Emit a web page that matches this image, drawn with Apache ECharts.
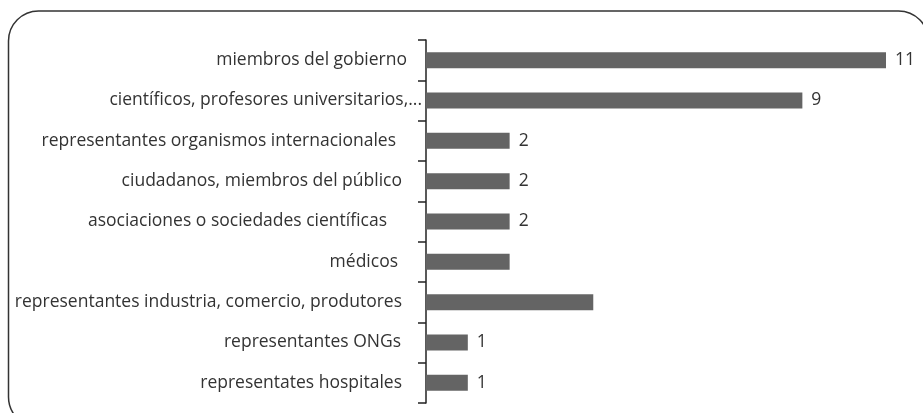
<!DOCTYPE html>
<html>
<head>
<meta charset="utf-8">
<script src="https://cdn.jsdelivr.net/npm/echarts@6/dist/echarts.min.js"></script>
<style>
html,body{margin:0;padding:0;background:#fff;}
#chart{width:923px;height:413px;}
</style>
</head>
<body>
<div id="chart"></div>
<script>
// Data
const categories = [
  'miembros del gobierno',
  'científicos, profesores universitarios,...',
  'representantes organismos internacionales',
  'ciudadanos, miembros del público',
  'asociaciones o sociedades científicas',
  'médicos',
  'representantes industria, comercio, produtores',
  'representantes ONGs',
  'representates hospitales'
];
const values = [11, 9, 2, 2, 2, 2, 4, 1, 1];
const showValueLabel = [true, true, true, true, true, false, false, true, true];

// Per-label extra right padding (layout only)
const labelPad = [15, 0, 26, 20, 35, 24, 20, 21, 20];

const FONT = 17.5;
const rich = {};
labelPad.forEach((p, i) => {
  rich['p' + i] = {
    fontFamily: 'Open Sans',
    fontSize: FONT,
    color: '#333',
    padding: [0, p, 0, 0]
  };
});

const chart = echarts.init(document.getElementById('chart'), null, {renderer: 'canvas'});
chart.setOption({
  animation: false,
  backgroundColor: '#fff',
  grid: {left: 426, width: 460, top: 40, bottom: 10, containLabel: false},
  xAxis: {type: 'value', min: 0, max: 11, show: false},
  yAxis: {
    type: 'category',
    inverse: true,
    data: categories,
    axisLine: {show: true, lineStyle: {color: '#222', width: 1.5}},
    axisTick: {show: true, length: 8, inside: false, lineStyle: {color: '#222', width: 1.5}},
    axisLabel: {
      margin: 4,
      fontFamily: 'Open Sans',
      fontSize: FONT,
      color: '#333',
      formatter: function (v, i) { return '{p' + i + '|' + v + '}'; },
      rich: rich
    },
    splitLine: {show: false}
  },
  series: [{
    type: 'bar',
    barWidth: 16,
    itemStyle: {color: '#646464'},
    label: {
      show: true,
      position: 'right',
      distance: 9,
      fontFamily: 'Open Sans',
      fontSize: FONT,
      color: '#333'
    },
    data: values.map((v, i) => ({value: v, label: {show: showValueLabel[i]}}))
  }],
  graphic: [{
    type: 'rect',
    silent: true,
    shape: {x: 8.5, y: 11, width: 920, height: 416, r: 30},
    style: {fill: 'none', stroke: '#333', lineWidth: 1.5},
    z: 100
  }]
});
</script>
</body>
</html>
